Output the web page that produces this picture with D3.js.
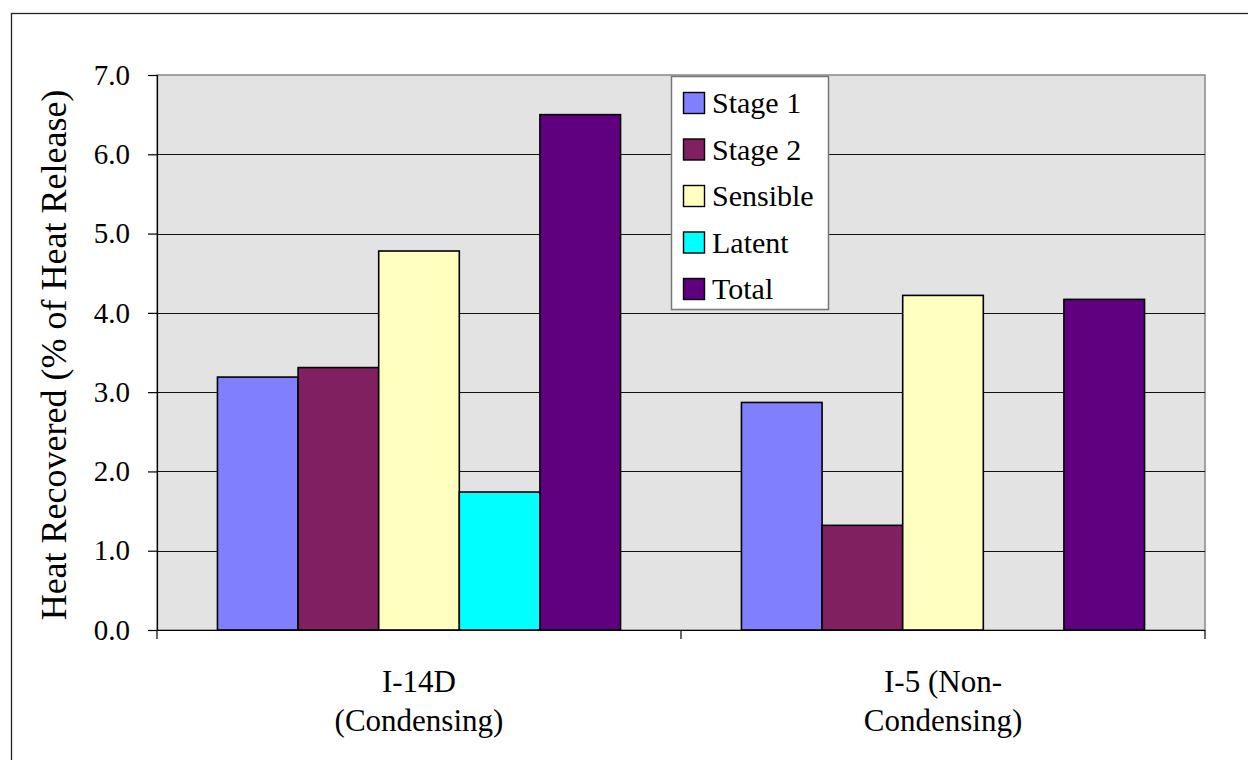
<!DOCTYPE html>
<html>
<head>
<meta charset="utf-8">
<script src="https://cdn.jsdelivr.net/npm/d3@7"></script>
<style>
html,body{margin:0;padding:0;background:#fff;}
svg text{font-family:"Liberation Serif","Times New Roman",Times,serif;}
</style>
</head>
<body>
<svg id="chart" width="1248" height="760"></svg>
<script>
const categories = [["I-14D","(Condensing)"],["I-5 (Non-","Condensing)"]];
const categoryKeys = ["I-14D (Condensing)","I-5 (Non-Condensing)"];
const series = ["Stage 1","Stage 2","Sensible","Latent","Total"];
const colors = ["#8080FF","#802060","#FFFFC0","#00FFFF","#600080"];
const stage1 = [3.19, 2.87];
const stage2 = [3.31, 1.32];
const sensible = [4.78, 4.22];
const latent = [1.74, 0];
const total = [6.50, 4.17];
const values = [stage1, stage2, sensible, latent, total];
const yTicks = [0,1,2,3,4,5,6,7];

const svg = d3.select("#chart");
const L = 157, R = 1205, T = 75, B = 630;
const FONT = '"Liberation Serif","Times New Roman",Times,serif';

svg.append("rect").attr("x",11.5).attr("y",13.5).attr("width",1300).attr("height",800)
  .attr("fill","none").attr("stroke","#222").attr("stroke-width",1.3);

const y = d3.scaleLinear().domain([0,7]).range([B,T]);
const x0 = d3.scaleBand().domain(categoryKeys).range([L,R]).padding(0);
const x1 = d3.scaleBand().domain(series).range([0,x0.bandwidth()]).paddingInner(0).paddingOuter(0.75);

svg.append("rect").attr("x",L).attr("y",T).attr("width",R-L).attr("height",B-T)
  .attr("fill","#E3E3E3").attr("stroke","#888").attr("stroke-width",1.5);

svg.append("g").selectAll("line").data(yTicks.filter(d=>d>0 && d<7)).join("line")
  .attr("x1",L).attr("x2",R).attr("y1",d=>Math.round(y(d))+0.5).attr("y2",d=>Math.round(y(d))+0.5)
  .attr("stroke","#111").attr("stroke-width",1.2);

const g = svg.append("g");
categoryKeys.forEach((c,ci)=>{
  series.forEach((s,si)=>{
    const v = values[si][ci];
    if (v <= 0) return;
    g.append("rect")
      .attr("x", x0(c)+x1(s))
      .attr("y", y(v))
      .attr("width", x1.bandwidth())
      .attr("height", y(0)-y(v))
      .attr("fill", colors[si])
      .attr("stroke","#000").attr("stroke-width",1.6);
  });
});

const yAxis = d3.axisLeft(y).tickValues(yTicks).tickFormat(d3.format(".1f")).tickSize(9).tickPadding(18);
const ya = svg.append("g").attr("transform",`translate(${L},0)`).call(yAxis);
ya.select(".domain").attr("stroke","#000").attr("stroke-width",1.2);
ya.selectAll(".tick line").attr("stroke","#000").attr("stroke-width",1.2);
ya.selectAll(".tick text").attr("font-size",29).attr("fill","#000").attr("font-family",FONT);

const xa = svg.append("g").attr("transform",`translate(0,${B})`);
xa.append("line").attr("x1",L).attr("x2",R).attr("y1",0.5).attr("y2",0.5).attr("stroke","#000").attr("stroke-width",1.2);
const bounds = [L, ...categoryKeys.map(c=>x0(c)+x0.bandwidth())];
xa.selectAll("line.tk").data(bounds).join("line").attr("class","tk")
  .attr("x1",d=>d).attr("x2",d=>d).attr("y1",0).attr("y2",9).attr("stroke","#000").attr("stroke-width",1.2);
categoryKeys.forEach((c,ci)=>{
  const t = xa.append("text").attr("text-anchor","middle").attr("font-size",31).attr("fill","#000")
    .attr("font-family",FONT)
    .attr("x", x0(c)+x0.bandwidth()/2);
  categories[ci].forEach((ln,li)=>{
    t.append("tspan").attr("x", x0(c)+x0.bandwidth()/2).attr("y", 62+li*39).text(ln);
  });
});

svg.append("text").attr("transform",`translate(66,${355}) rotate(-90)`)
  .attr("text-anchor","middle").attr("font-size",36).attr("fill","#000")
  .attr("font-family",FONT)
  .text("Heat Recovered (% of Heat Release)");

const lg = svg.append("g");
lg.append("rect").attr("x",671.5).attr("y",76.5).attr("width",157).attr("height",233)
  .attr("fill","#fff").attr("stroke","#777").attr("stroke-width",1.5);
series.forEach((s,i)=>{
  const cy = 103 + i*46.5;
  lg.append("rect").attr("x",683.5).attr("y",cy-10.5).attr("width",21).attr("height",21)
    .attr("fill",colors[i]).attr("stroke","#000").attr("stroke-width",1.4);
  lg.append("text").attr("x",712).attr("y",cy+10).attr("font-size",30).attr("fill","#000")
    .attr("font-family",FONT).text(s);
});
</script>
</body>
</html>
